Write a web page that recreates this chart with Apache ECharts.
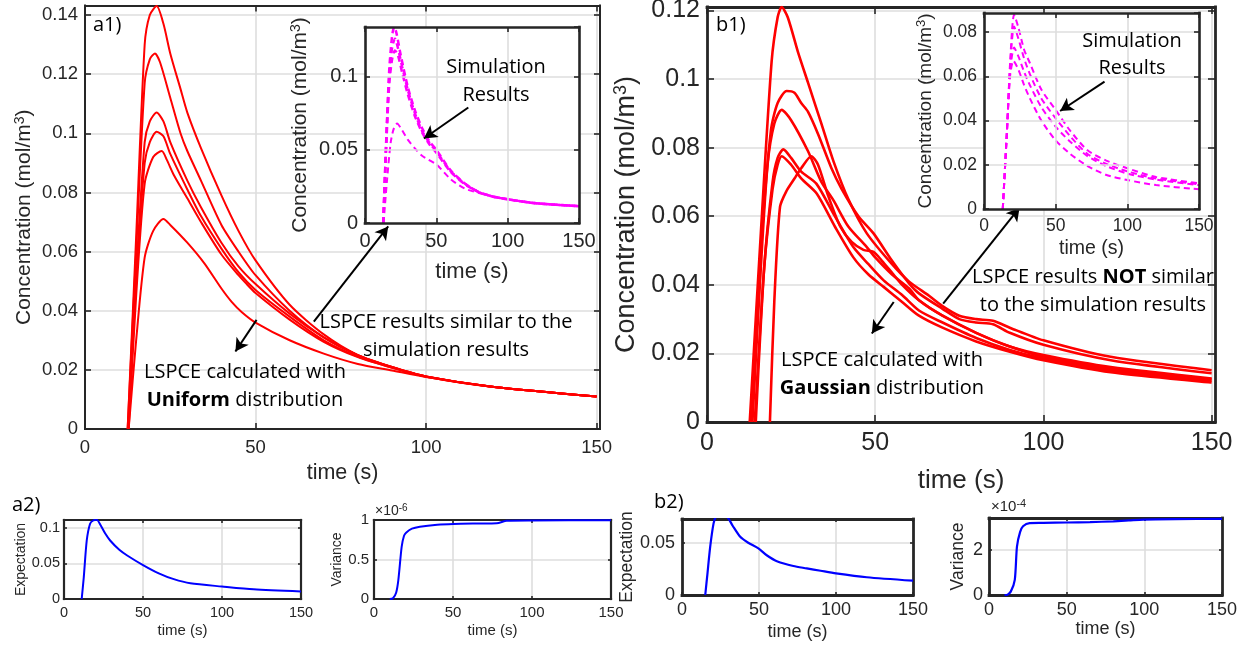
<!DOCTYPE html>
<html><head><meta charset="utf-8">
<script src="https://cdn.jsdelivr.net/npm/echarts@6/dist/echarts.min.js"></script>
<style>html,body{margin:0;padding:0;background:#fff}#c{width:1247px;height:646px}</style>
</head><body><div id="c"></div>
<script>
// ===================== DATA =====================
// a1) LSPCE, Uniform distribution (6 curves)
const A1_T1 = [12.5, 15, 17.5, 19, 21, 23, 25, 28, 30, 34, 40, 45, 50, 60, 70, 80, 90, 100, 120, 150];
const A1_V1 = [0, 0.065, 0.13, 0.14, 0.143, 0.137, 0.127, 0.115, 0.107, 0.095, 0.079, 0.067, 0.057, 0.042, 0.032, 0.025, 0.021, 0.0178, 0.0142, 0.011];
const A1_T2 = [12.5, 15, 17.5, 19, 20.5, 22, 25, 28, 30, 34, 40, 45, 50, 60, 70, 80, 90, 100, 120, 150];
const A1_V2 = [0, 0.06, 0.117, 0.125, 0.127, 0.124, 0.112, 0.1, 0.094, 0.084, 0.069, 0.06, 0.052, 0.04, 0.031, 0.025, 0.021, 0.0178, 0.0142, 0.011];
const A1_T3 = [12.7, 15, 17.5, 19, 21, 23, 25, 30, 34, 40, 45, 50, 60, 70, 80, 90, 100, 120, 150];
const A1_V3 = [0, 0.052, 0.097, 0.104, 0.107, 0.104, 0.097, 0.084, 0.075, 0.063, 0.055, 0.049, 0.039, 0.031, 0.025, 0.021, 0.0178, 0.0142, 0.011];
const A1_T4 = [12.7, 15, 17.5, 19, 21, 23, 25, 30, 34, 40, 45, 50, 60, 70, 80, 90, 100, 120, 150];
const A1_V4 = [0, 0.05, 0.09, 0.097, 0.1005, 0.099, 0.093, 0.081, 0.072, 0.061, 0.053, 0.047, 0.038, 0.030, 0.0245, 0.0208, 0.0177, 0.0142, 0.011];
const A1_T5 = [12.8, 15, 17.5, 20, 22.5, 24, 26, 30, 34, 40, 45, 47, 50, 60, 70, 80, 90, 100, 120, 150];
const A1_V5 = [0, 0.045, 0.083, 0.092, 0.094, 0.091, 0.086, 0.078, 0.07, 0.059, 0.052, 0.0495, 0.046, 0.037, 0.0295, 0.0243, 0.0207, 0.0177, 0.0142, 0.011];
const A1_T6 = [12.8, 15, 17.5, 20, 23, 25, 30, 35, 40, 43, 46, 50, 60, 70, 80, 90, 100, 120, 150];
const A1_V6 = [0, 0.03, 0.058, 0.067, 0.071, 0.069, 0.063, 0.056, 0.0475, 0.043, 0.0395, 0.036, 0.030, 0.0255, 0.022, 0.0198, 0.0176, 0.0142, 0.011];

// a1) inset: simulation results (magenta dashed)
const A1S_T1 = [12.8, 15, 17, 19, 20.5, 22, 25, 30, 35, 40, 45, 50, 60, 70, 80, 90, 100, 120, 150];
const A1S_V1 = [0, 0.06, 0.105, 0.128, 0.134, 0.13, 0.115, 0.093, 0.077, 0.065, 0.056, 0.05, 0.036, 0.027, 0.021, 0.018, 0.0162, 0.0135, 0.0115];
const A1S_T2 = [12.8, 15, 17, 19, 21, 23, 26, 30, 35, 40, 45, 50, 60, 70, 80, 90, 100, 120, 150];
const A1S_V2 = [0, 0.058, 0.1, 0.12, 0.126, 0.12, 0.107, 0.091, 0.075, 0.063, 0.055, 0.049, 0.0355, 0.0268, 0.021, 0.018, 0.0162, 0.0135, 0.0115];
const A1S_T3 = [12.8, 15, 17, 19, 21, 23, 26, 30, 35, 40, 45, 50, 60, 70, 80, 90, 100, 120, 150];
const A1S_V3 = [0, 0.055, 0.095, 0.112, 0.118, 0.115, 0.103, 0.088, 0.073, 0.062, 0.054, 0.048, 0.035, 0.0265, 0.021, 0.018, 0.0162, 0.0135, 0.0115];
const A1S_T4 = [13, 15.5, 18, 20, 22.5, 25, 30, 35, 40, 50, 60, 70, 80, 90, 100, 120, 150];
const A1S_V4 = [0, 0.03, 0.055, 0.064, 0.068, 0.065, 0.057, 0.051, 0.046, 0.04, 0.03, 0.0235, 0.0205, 0.018, 0.0162, 0.0135, 0.0115];

// b1) LSPCE, Gaussian distribution (6 curves)
const B1_T1 = [12.7, 16, 19.2, 21, 22.2, 24, 27, 30, 34, 37.6, 42, 47.5, 55, 60, 66, 70, 75, 80, 85, 90, 100, 120, 150];
const B1_V1 = [0, 0.055, 0.105, 0.118, 0.121, 0.118, 0.108, 0.099, 0.087, 0.076, 0.065, 0.055, 0.046, 0.041, 0.0368, 0.0338, 0.031, 0.030, 0.0295, 0.0275, 0.0238, 0.019, 0.0151];
const B1_T2 = [13.2, 16, 19, 21, 23.7, 26, 28, 30, 33, 37, 40, 45, 49.5, 55, 60, 63, 70, 75, 80, 85, 90, 100, 120, 150];
const B1_V2 = [0, 0.05, 0.085, 0.093, 0.0965, 0.096, 0.093, 0.0905, 0.084, 0.074, 0.068, 0.06, 0.055, 0.047, 0.0405, 0.0375, 0.033, 0.030, 0.029, 0.0285, 0.026, 0.0225, 0.018, 0.0142];
const B1_T3 = [13.5, 16, 18, 20, 22.2, 25, 30, 34, 37.6, 42, 47.5, 50, 55, 60, 63, 70, 80, 90, 100, 120, 150];
const B1_V3 = [0, 0.045, 0.075, 0.087, 0.091, 0.088, 0.079, 0.07, 0.0646, 0.057, 0.051, 0.048, 0.043, 0.039, 0.0355, 0.031, 0.026, 0.022, 0.019, 0.0155, 0.0125];
const B1_T4 = [14.5, 17, 19.5, 21, 22.7, 25, 28, 32.5, 38, 43.5, 48, 52.5, 58, 63, 70, 80, 90, 100, 120, 150];
const B1_V4 = [0, 0.045, 0.07, 0.077, 0.0795, 0.077, 0.073, 0.0695, 0.06, 0.051, 0.046, 0.0413, 0.037, 0.0325, 0.029, 0.0245, 0.021, 0.0185, 0.015, 0.012];
const B1_T5 = [14.2, 17, 19.5, 21, 22.2, 25, 28, 32.6, 38, 43.5, 48, 52.5, 58, 63, 70, 80, 90, 100, 120, 150];
const B1_V5 = [0, 0.045, 0.068, 0.075, 0.0775, 0.075, 0.071, 0.0666, 0.057, 0.048, 0.043, 0.0394, 0.035, 0.031, 0.0275, 0.0235, 0.0205, 0.018, 0.0145, 0.0115];
const B1_T6 = [18.7, 20, 21.7, 23.7, 26, 28, 31, 33, 36, 39.6, 43, 46.5, 49.5, 52, 55, 58, 63, 70, 80, 90, 100, 120, 150];
const B1_V6 = [0, 0.035, 0.0627, 0.0675, 0.071, 0.074, 0.0775, 0.075, 0.066, 0.057, 0.0525, 0.0502, 0.0496, 0.047, 0.0435, 0.040, 0.0355, 0.031, 0.026, 0.022, 0.0195, 0.016, 0.0127];

// b1) inset: simulation results (magenta dashed)
const B1S_T1 = [13.1, 16, 18.2, 21, 24, 28, 32, 40, 50, 60, 72, 85, 100, 120, 150];
const B1S_V1 = [0, 0.035, 0.066, 0.0878, 0.082, 0.072, 0.066, 0.054, 0.0448, 0.0355, 0.0267, 0.022, 0.0184, 0.0145, 0.0116];
const B1S_T2 = [13.1, 16, 18.2, 21, 24, 28, 32, 40, 50, 60, 72, 85, 100, 120, 150];
const B1S_V2 = [0, 0.035, 0.064, 0.0825, 0.077, 0.068, 0.061, 0.05, 0.041, 0.033, 0.025, 0.0205, 0.017, 0.0138, 0.0112];
const B1S_T3 = [13.1, 16, 18.2, 21, 24, 28, 32, 40, 50, 60, 72, 85, 100, 120, 150];
const B1S_V3 = [0, 0.035, 0.062, 0.073, 0.069, 0.062, 0.056, 0.046, 0.0372, 0.0305, 0.024, 0.0195, 0.016, 0.0133, 0.0108];
const B1S_T4 = [13.1, 16, 18.2, 20.5, 24, 28, 32, 40, 50, 60, 72, 85, 100, 120, 150];
const B1S_V4 = [0, 0.035, 0.06, 0.067, 0.063, 0.056, 0.05, 0.04, 0.031, 0.025, 0.0195, 0.0155, 0.0131, 0.0108, 0.0089];

// a2) expectation and variance (variance in units of 1e-6)
const A2E_T = [11.2, 12.5, 14.4, 16.5, 18.5, 20.8, 23, 26, 29.2, 35, 40, 50, 60, 69.5, 80, 100, 120, 150];
const A2E_V = [0, 0.03, 0.082, 0.1055, 0.11, 0.111, 0.104, 0.092, 0.082, 0.069, 0.061, 0.0476, 0.036, 0.0278, 0.022, 0.0175, 0.0135, 0.0106];
const A2V_T = [10, 12, 14, 15.4, 17.5, 19, 20.3, 24, 29, 40, 50.3, 65, 77.7, 84, 100, 150];
const A2V_V = [0, 0.01, 0.08, 0.24, 0.66, 0.8, 0.84, 0.89, 0.915, 0.94, 0.95, 0.955, 0.958, 0.99, 0.995, 0.998];

// b2) expectation and variance (variance in units of 1e-4)
const B2E_T = [15.1, 16.5, 18.3, 20.5, 22, 25, 28, 30, 33, 37.8, 43, 49.6, 55, 62, 72.3, 81, 90, 100, 120, 150];
const B2E_V = [0, 0.02, 0.046, 0.0685, 0.0745, 0.076, 0.0755, 0.0735, 0.066, 0.0557, 0.05, 0.0446, 0.038, 0.032, 0.0277, 0.0255, 0.0232, 0.0207, 0.017, 0.0137];
const B2V_T = [10, 11.2, 14, 16.6, 18, 20, 21.9, 26.2, 35, 50, 65, 80, 90, 99.3, 120, 150];
const B2V_V = [0, 0, 0.15, 0.67, 2.16, 2.8, 3.06, 3.2, 3.21, 3.23, 3.25, 3.28, 3.32, 3.36, 3.38, 3.39];

// ===================== CHART =====================
const AX_FONT = '"Liberation Sans", Arial, sans-serif';
const NOTE_FONT = '"Open Sans", Lato, sans-serif';
const AXC = '#262626';
const pairs = (t, v) => t.map((x, i) => [x, v[i]]);

const panels = [
  {rect:[85,5.5,515,423.5], x:[0,151,50], y:[0,0.1432,0.02], fs:18.5, bw:2, tick:6, xm:9, ym:7,
   xName:'time (s)', xns:21.5, xGap:31, yName:'Concentration (mol/m{s|3})', yns:21, yGap:49, z:0},
  {rect:[365,27,214,196], x:[0,150,50], y:[0,0.134,0.05], fs:20, bw:2.6, tick:5, xm:8, ym:7,
   xName:'time (s)', xns:22, xGap:38, yName:'Concentration (mol/m{s|3})', yns:21, yGap:53, z:10},
  {rect:[707,7,508,415], x:[0,151,50], y:[0,0.121,0.02], fs:25, bw:2.8, tick:7, xm:9, ym:7,
   xName:'time (s)', xns:26, xGap:46, yName:'Concentration (mol/m{s|3})', yns:27, yGap:65, z:0},
  {rect:[984,13,215,196], x:[0,150,50], y:[0,0.0886,0.02], fs:17.5, bw:2.6, tick:5, xm:8, ym:7,
   xName:'time (s)', xns:19.5, xGap:30, yName:'Concentration (mol/m{s|3})', yns:19, yGap:47, z:10},
  {rect:[64,520,237,79], x:[0,150,50], y:[0,0.1107,0.05], fs:14.5, bw:2.2, tick:3, xm:6, ym:4,
   xName:'time (s)', xns:15, xGap:24, yName:'Expectation', yns:14, yGap:35, z:0},
  {rect:[374,520,237,79], x:[0,150,50], y:[0,1,0.5], fs:15, bw:2.2, tick:3, xm:6, ym:5,
   xName:'time (s)', xns:15, xGap:24, yName:'Variance', yns:14, yGap:27, z:0},
  {rect:[682,519,231,76], x:[0,150,50], y:[0,0.0727,0.05], fs:18, bw:2.8, tick:3, xm:6, ym:7,
   xName:'time (s)', xns:18, xGap:28, yName:'Expectation', yns:17.5, yGap:46, z:0},
  {rect:[989,518,233,77], x:[0,150,50], y:[0,3.43,2], fs:18, bw:2.8, tick:3, xm:6, ym:6,
   xName:'time (s)', xns:18, xGap:24, yName:'Variance', yns:17.5, yGap:22, z:0}
];

const isMult = (r) => Math.abs(r[1] / r[2] - Math.round(r[1] / r[2])) < 1e-9;
const grid = [], xAxis = [], yAxis = [];
panels.forEach((p, i) => {
  grid.push({left:p.rect[0], top:p.rect[1], width:p.rect[2], height:p.rect[3], show:true,
    backgroundColor: p.z ? '#ffffff' : 'transparent', borderWidth:0,
    z:p.z, outerBoundsMode:'none', containLabel:false});
  const lbl = {fontSize:p.fs, color:AXC, fontFamily:AX_FONT};
  const sl = {show:true, showMinLine:false, showMaxLine:false, lineStyle:{color:'#dedede', width:1.6}};
  const tk = {show:true, inside:true, length:p.tick, lineStyle:{color:AXC, width:1.6}};
  const al = {show:true, onZero:false, lineStyle:{color:AXC, width:p.bw, cap:'square'}};
  xAxis.push({type:'value', gridIndex:i, position:'bottom', min:p.x[0], max:p.x[1], interval:p.x[2], z:p.z+2,
    axisLine:al, axisTick:tk, splitLine:sl,
    axisLabel:Object.assign({margin:p.xm, showMaxLabel:isMult(p.x)}, lbl),
    name:p.xName, nameLocation:'middle', nameGap:p.xGap,
    nameTextStyle:{fontSize:p.xns, color:AXC, fontFamily:AX_FONT}});
  xAxis.push({type:'value', gridIndex:i, position:'top', min:p.x[0], max:p.x[1], interval:p.x[2], z:p.z+2,
    axisLine:al, axisTick:tk, splitLine:{show:false}, axisLabel:{show:false}});
  yAxis.push({type:'value', gridIndex:i, position:'left', min:p.y[0], max:p.y[1], interval:p.y[2], z:p.z+2,
    axisLine:al, axisTick:tk, splitLine:sl,
    axisLabel:Object.assign({margin:p.ym, showMaxLabel:isMult(p.y)}, lbl),
    name:p.yName, nameLocation:'middle', nameGap:p.yGap,
    nameTextStyle:{fontSize:p.yns, color:AXC, fontFamily:AX_FONT,
      rich:{s:{fontSize:Math.round(p.yns*0.68), color:AXC, fontFamily:AX_FONT, verticalAlign:'top', padding:[0,0,Math.round(p.yns*0.45),0]}}}});
  yAxis.push({type:'value', gridIndex:i, position:'right', min:p.y[0], max:p.y[1], interval:p.y[2], z:p.z+2,
    axisLine:al, axisTick:tk, splitLine:{show:false}, axisLabel:{show:false}});
});

const arrowML = (lines, z) => ({silent:true, symbol:['none','arrow'], symbolSize:[11,13], animation:false,
  label:{show:false}, lineStyle:{color:'#000', width:2, type:'solid'},
  emphasis:{disabled:true}, z:z,
  data: lines.map(l => [{coord:l[0]}, {coord:l[1]}])});

function line(gi, t, v, color, width, dashed, z, extra) {
  return Object.assign({type:'line', xAxisIndex:gi*2, yAxisIndex:gi*2, data:pairs(t, v),
    showSymbol:false, symbol:'none', smooth:0.25, clip:true, z:z, silent:true,
    lineStyle:{color:color, width:width, type: dashed ? [6,4] : 'solid'}}, extra || {});
}

const RED = '#ff0000', MAG = '#ff00ff', BLUE = '#0000ff';
const series = [
  line(0, A1_T1, A1_V1, RED, 2, false, 2, {markLine: arrowML([
     [[67.1,0.0363],[88.9,0.0685]], [[50.3,0.0369],[44.1,0.0262]] ], 3)}),
  line(0, A1_T2, A1_V2, RED, 2, false, 2),
  line(0, A1_T3, A1_V3, RED, 2, false, 2),
  line(0, A1_T4, A1_V4, RED, 2, false, 2),
  line(0, A1_T5, A1_V5, RED, 2, false, 2),
  line(0, A1_T6, A1_V6, RED, 2, false, 2),
  line(1, A1S_T1, A1S_V1, MAG, 2.5, true, 11, {markLine: arrowML([[[72.4,0.079],[41.3,0.0578]]], 12)}),
  line(1, A1S_T2, A1S_V2, MAG, 2.5, true, 11),
  line(1, A1S_T3, A1S_V3, MAG, 2.5, true, 11),
  line(1, A1S_T4, A1S_V4, MAG, 2, true, 11),
  line(2, B1_T1, B1_V1, RED, 2.6, false, 2, {markLine: arrowML([
     [[70.2,0.0345],[92.9,0.0625]], [[55.5,0.035],[49,0.0258]] ], 3)}),
  line(2, B1_T2, B1_V2, RED, 2.6, false, 2),
  line(2, B1_T3, B1_V3, RED, 2.6, false, 2),
  line(2, B1_T4, B1_V4, RED, 2.6, false, 2),
  line(2, B1_T5, B1_V5, RED, 2.6, false, 2),
  line(2, B1_T6, B1_V6, RED, 2.6, false, 2),
  line(3, B1S_T1, B1S_V1, MAG, 2, true, 11, {markLine: arrowML([[[84.1,0.0576],[53.1,0.0443]]], 12)}),
  line(3, B1S_T2, B1S_V2, MAG, 2, true, 11),
  line(3, B1S_T3, B1S_V3, MAG, 2, true, 11),
  line(3, B1S_T4, B1S_V4, MAG, 2, true, 11),
  line(4, A2E_T, A2E_V, BLUE, 2, false, 2),
  line(5, A2V_T, A2V_V, BLUE, 2, false, 2),
  line(6, B2E_T, B2E_V, BLUE, 2.2, false, 2),
  line(7, B2V_T, B2V_V, BLUE, 2.2, false, 2)
];

const note = (x, y, text, size, align) => ({type:'text', x:x, y:y, z:100, silent:true,
  style:{text:text, fill:'#000', font: size + 'px ' + NOTE_FONT, align:align || 'center', verticalAlign:'middle',
    rich:{b:{fontWeight:'bold', fontSize:size, fontFamily:NOTE_FONT, fill:'#000'}}}});
const mult = (x, y, exp, fs) => ({type:'text', x:x, y:y, z:100, silent:true,
  style:{text:'{m|×10}{e|' + exp + '}', align:'left', verticalAlign:'middle',
    rich:{m:{fontSize:fs, fontFamily:AX_FONT, fill:AXC}, e:{fontSize:Math.round(fs*0.7), fontFamily:AX_FONT, fill:AXC, verticalAlign:'top', padding:[0,0,Math.round(fs*0.45),0]}}}});

const graphic = [
  note(93, 25.5, 'a1)', 20, 'left'),
  note(716, 25.5, 'b1)', 20, 'left'),
  note(446, 322, 'LSPCE results similar to the', 20),
  note(446, 350, 'simulation results', 20),
  note(245, 372, 'LSPCE calculated with', 20),
  note(245, 400, '{b|Uniform} distribution', 20),
  note(496, 67, 'Simulation', 20),
  note(496, 95, 'Results', 20),
  note(1093, 277, 'LSPCE results {b|NOT} similar', 20),
  note(1093, 305, 'to the simulation results', 20),
  note(882, 360, 'LSPCE calculated with', 20),
  note(882, 388, '{b|Gaussian} distribution', 20),
  note(1132, 41, 'Simulation', 20),
  note(1132, 68, 'Results', 20),
  note(12, 505, 'a2)', 20, 'left'),
  note(654, 502, 'b2)', 20, 'left'),
  mult(375, 511, '-6', 14),
  mult(991, 507, '-4', 15)
];

const chart = echarts.init(document.getElementById('c'), null, {renderer:'canvas'});
chart.setOption({animation:false, backgroundColor:'#ffffff', grid, xAxis, yAxis, series, graphic});
</script></body></html>
